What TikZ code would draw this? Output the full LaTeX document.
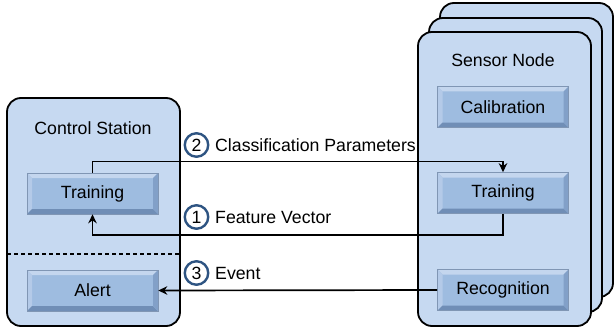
\documentclass[tikz,border=0pt]{standalone}
\usepackage{fontspec}
\setmainfont{Liberation Sans}
\usetikzlibrary{arrows.meta}
\definecolor{panel}{RGB}{198,217,241}
\definecolor{btnface}{RGB}{158,188,224}
\definecolor{btntop}{RGB}{196,214,238}
\definecolor{btnleft}{RGB}{180,202,232}
\definecolor{btnbot}{RGB}{112,142,182}
\definecolor{btnright}{RGB}{130,160,200}
\definecolor{btnedge}{RGB}{128,150,180}
\definecolor{ringblue}{RGB}{46,84,130}
\tikzset{
  panelbox/.style={draw=black, line width=1.8pt, fill=panel, rounded corners=14pt},
  txt/.style={font=\fontsize{17.7}{20}\selectfont, inner sep=0pt},
  btn/.style={txt, minimum width=131pt, minimum height=41pt, draw=btnedge, line width=0.6pt, fill=btnface,
    path picture={
      \fill[btntop] (path picture bounding box.north west) -- (path picture bounding box.north east)
        -- ([shift={(-5pt,-5pt)}]path picture bounding box.north east) -- ([shift={(5pt,-5pt)}]path picture bounding box.north west) -- cycle;
      \fill[btnleft] (path picture bounding box.north west) -- ([shift={(5pt,-5pt)}]path picture bounding box.north west)
        -- ([shift={(5pt,5pt)}]path picture bounding box.south west) -- (path picture bounding box.south west) -- cycle;
      \fill[btnbot] (path picture bounding box.south west) -- (path picture bounding box.south east)
        -- ([shift={(-5pt,5pt)}]path picture bounding box.south east) -- ([shift={(5pt,5pt)}]path picture bounding box.south west) -- cycle;
      \fill[btnright] (path picture bounding box.north east) -- ([shift={(-5pt,-5pt)}]path picture bounding box.north east)
        -- ([shift={(-5pt,5pt)}]path picture bounding box.south east) -- (path picture bounding box.south east) -- cycle;
    }},
  ring/.style={circle, draw=ringblue, line width=2.4pt, fill=white, minimum size=23.5pt, inner sep=0pt, font=\fontsize{17.7}{20}\selectfont},
  conn/.style={draw=black, line width=1.7pt},
  arr/.style={conn, -{Stealth[length=9pt, width=8.5pt]}}
}
\begin{document}
\begin{tikzpicture}[x=1pt, y=-1pt]
\useasboundingbox (0,0) rectangle (616,329);
% sensor node stack
\draw[panelbox] (440,3) rectangle (613,297);
\draw[panelbox] (429,18) rectangle (602,312);
\draw[panelbox] (418,32) rectangle (591,326);
% control station
\draw[panelbox] (7,98) rectangle (180,326);
\draw[line width=1.2pt, dashed, dash pattern=on 4pt off 3pt] (7,254) -- (180,254);
\node[txt] (cstitle) at (93,128) {Control Station};
\node[txt] (sntitle) at (503,60) {Sensor Node};
\node[btn] (ctrain) at (92.5,193.5) {Training};
\node[btn] (alert) at (92.5,290.5) {Alert};
\node[btn] (calib) at (503,107) {Calibration};
\node[btn] (strain) at (503,193) {Training};
\node[btn] (recog) at (503,290) {Recognition};
% connectors
\coordinate (c2a) at (ctrain.north |- 0,161.5);
\coordinate (c2b) at (strain.north |- 0,161.5);
\draw[arr] (ctrain.north) -- (c2a) -- (c2b) -- (strain.north);
\coordinate (c1a) at (strain.south |- 0,235);
\coordinate (c1b) at (ctrain.south |- 0,235);
\draw[arr] (strain.south) -- (c1a) -- (c1b) -- (ctrain.south);
\draw[arr] (recog.west) -- (alert.east);
% labels
\node[ring] (r2) at (196.5,145) {2};
\node[txt, anchor=west] (l2) at (215,145.5) {Classification Parameters};
\node[ring] (r1) at (196.5,217) {1};
\node[txt, anchor=west] (l1) at (215,217.5) {Feature Vector};
\node[ring] (r3) at (196.5,273) {3};
\node[txt, anchor=west] (l3) at (215,273.5) {Event};
\end{tikzpicture}
\end{document}
